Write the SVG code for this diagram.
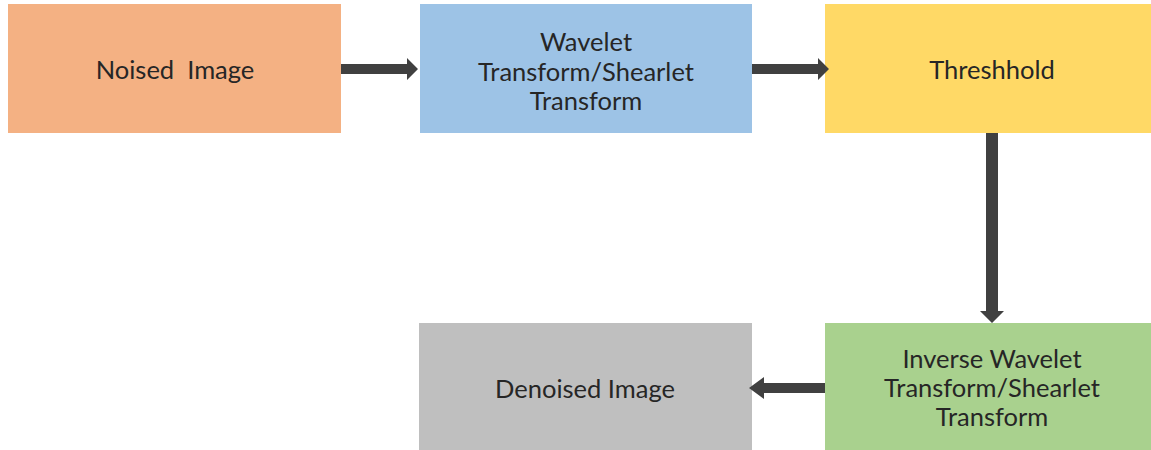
<svg xmlns="http://www.w3.org/2000/svg" width="1151" height="450" viewBox="0 0 1151 450">
<style>
text{font-family:Lato,"Open Sans",sans-serif;font-size:25.5px;fill:#262626;text-anchor:middle;dominant-baseline:central}
.ar{fill:#404040}
</style>
<rect width="1151" height="450" fill="#fff"/>
<g id="noised"><rect x="8" y="4" width="333" height="129" fill="#F4B183"/><text x="175" y="69" xml:space="preserve">Noised  Image</text></g>
<g id="wavelet"><rect x="420" y="4" width="332" height="129" fill="#9DC3E6"/><text x="586" y="41">Wavelet</text><text x="586" y="71">Transform/Shearlet</text><text x="586" y="100">Transform</text></g>
<g id="threshold"><rect x="825" y="4" width="326" height="129" fill="#FFD966"/><text x="992" y="69">Threshhold</text></g>
<g id="inverse"><rect x="825" y="323" width="326" height="127" fill="#A9D18E"/><text x="992" y="358">Inverse Wavelet</text><text x="992" y="387">Transform/Shearlet</text><text x="992" y="416">Transform</text></g>
<g id="denoised"><rect x="419" y="323" width="333" height="127" fill="#BFBFBF"/><text x="585" y="388">Denoised Image</text></g>
<g id="connectors">
<polygon class="ar" points="341,64 407,64 407,58 418,69 407,80 407,74 341,74"/>
<polygon class="ar" points="752,64 818,64 818,58 829,69 818,80 818,74 752,74"/>
<polygon class="ar" points="986,133 998,133 998,311 1004,311 992,323 980,311 986,311"/>
<polygon class="ar" points="825,383 764,383 764,377 749,388 764,399 764,393 825,393"/>
</g>
</svg>
